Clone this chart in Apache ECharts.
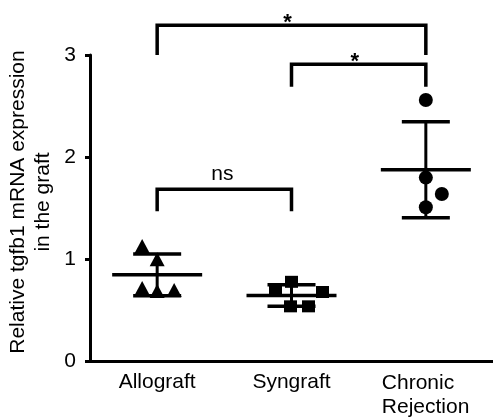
<!DOCTYPE html>
<html>
<head>
<meta charset="utf-8">
<script src="https://cdn.jsdelivr.net/npm/echarts@6/dist/echarts.min.js"></script>
<style>
  html, body { margin: 0; padding: 0; background: #fff; }
  #chart { width: 493px; height: 418px; }
</style>
</head>
<body>
<div id="chart"></div>
<script>
// Group names on the x axis
const categories = ['Allograft', 'Syngraft', 'Chronic\nRejection'];

// Relative tgfb1 mRNA expression, one value per animal
const allograft = [1.13, 1.00, 0.72, 0.69, 0.70];
const syngraft = [0.78, 0.69, 0.68, 0.54, 0.54];
const chronicRejection = [2.56, 1.80, 1.64, 1.51];

// Sideways spread of the dots inside each column (pixels)
const allograftSpread = [-15, 0, -15, 0, 17];
const syngraftSpread = [0, -16, 31, -1, 17];
const chronicSpread = [0, 0, 16, 0];

// Y axis ticks
const yTicks = [0, 1, 2, 3];

// Significance brackets: groups joined, bar height, leg foot, text
const bracketFrom = [0, 1, 0];
const bracketTo = [2, 2, 1];
const bracketTop = [3.29, 2.91, 1.685];
const bracketFoot = [3.0, 2.69, 1.47];
const bracketText = ['*', '*', 'ns'];

const FONT = '"Liberation Sans", Arial, Helvetica, sans-serif';

function mean(a) { return a.reduce((s, v) => s + v, 0) / a.length; }
function sd(a) {
  const m = mean(a);
  return Math.sqrt(a.reduce((s, v) => s + (v - m) * (v - m), 0) / (a.length - 1));
}

const groups = [
  { values: allograft, spread: allograftSpread, symbol: 'triangle', size: [15, 14] },
  { values: syngraft, spread: syngraftSpread, symbol: 'rect', size: [13, 12] },
  { values: chronicRejection, spread: chronicSpread, symbol: 'circle', size: 14 }
];

const pointSeries = groups.map((g, gi) => ({
  type: 'scatter',
  symbol: g.symbol,
  symbolSize: g.size,
  itemStyle: { color: '#000', opacity: 1 },
  silent: true,
  z: 2,
  data: g.values.map((v, i) => ({ value: [gi, v], symbolOffset: [g.spread[i], 0] }))
}));

const summary = groups.map((g, gi) => [gi, mean(g.values), sd(g.values)]);

const errorSeries = {
  type: 'custom',
  z: 3,
  silent: true,
  clip: false,
  data: summary,
  renderItem: function (params, api) {
    const x = api.value(0), m = api.value(1), s = api.value(2);
    const c = api.coord([x, m]);
    const hi = api.coord([x, m + s]);
    const lo = api.coord([x, m - s]);
    const st = { stroke: '#000', lineWidth: 3.5 };
    return {
      type: 'group',
      children: [
        { type: 'line', shape: { x1: c[0] - 45, y1: c[1], x2: c[0] + 45, y2: c[1] }, style: st },
        { type: 'line', shape: { x1: c[0], y1: hi[1], x2: c[0], y2: lo[1] }, style: { stroke: '#000', lineWidth: 3 } },
        { type: 'line', shape: { x1: c[0] - 24, y1: hi[1], x2: c[0] + 24, y2: hi[1] }, style: st },
        { type: 'line', shape: { x1: c[0] - 24, y1: lo[1], x2: c[0] + 24, y2: lo[1] }, style: st }
      ]
    };
  }
};

const bracketSeries = {
  type: 'custom',
  z: 4,
  silent: true,
  clip: false,
  data: bracketFrom.map((f, i) => [f, bracketTo[i], bracketTop[i], bracketFoot[i], i]),
  renderItem: function (params, api) {
    const a = api.value(0), b = api.value(1), top = api.value(2), foot = api.value(3);
    const label = bracketText[api.value(4)];
    const p1 = api.coord([a, foot]);
    const p2 = api.coord([a, top]);
    const p3 = api.coord([b, top]);
    const p4 = api.coord([b, foot]);
    const isStar = label === '*';
    return {
      type: 'group',
      children: [
        {
          type: 'polyline',
          shape: { points: [p1, p2, p3, p4] },
          style: { stroke: '#000', lineWidth: 3.5, fill: null, lineJoin: 'miter' }
        },
        {
          type: 'text',
          x: (p2[0] + p3[0]) / 2 - (isStar ? 4 : 2),
          y: p2[1] - (isStar ? 2 : 15),
          style: {
            text: label,
            fill: '#000',
            font: (isStar ? 'bold 22px ' : '21px ') + FONT,
            align: 'center',
            verticalAlign: 'middle'
          }
        }
      ]
    };
  }
};

const chart = echarts.init(document.getElementById('chart'), null, { renderer: 'canvas' });
chart.setOption({
  animation: false,
  backgroundColor: '#fff',
  grid: { left: 90, right: -6, top: 55, bottom: 55, containLabel: false },
  xAxis: {
    type: 'category',
    data: categories,
    boundaryGap: true,
    axisLine: { lineStyle: { color: '#000', width: 3 } },
    axisTick: { alignWithLabel: true, length: 8, lineStyle: { color: '#000', width: 3 } },
    axisLabel: {
      color: '#000', fontSize: 21, fontFamily: FONT, margin: 10, interval: 0,
      // stacked names are left-aligned inside a block centred on the tick
      formatter: function (v) {
        const parts = v.split('\n');
        return parts.length > 1 ? parts.map(p => '{l|' + p + '}').join('\n') : v;
      },
      rich: { l: { width: 88, align: 'left', fontSize: 21, fontFamily: FONT, color: '#000', lineHeight: 24 } }
    },
    splitLine: { show: false }
  },
  yAxis: {
    type: 'value',
    min: yTicks[0],
    max: yTicks[yTicks.length - 1],
    interval: 1,
    axisLine: { show: true, lineStyle: { color: '#000', width: 3 } },
    axisTick: { show: true, length: 5, lineStyle: { color: '#000', width: 3 } },
    axisLabel: { color: '#000', fontSize: 21, fontFamily: FONT, margin: 14 },
    splitLine: { show: false }
  },
  graphic: [
    {
      type: 'text',
      x: 18, y: 202,
      rotation: Math.PI / 2,
      style: { text: 'Relative tgfb1 mRNA expression', fill: '#000', font: '21px ' + FONT, align: 'center', verticalAlign: 'middle' }
    },
    {
      type: 'text',
      x: 43, y: 202,
      rotation: Math.PI / 2,
      style: { text: 'in the graft', fill: '#000', font: '21px ' + FONT, align: 'center', verticalAlign: 'middle' }
    }
  ],
  series: pointSeries.concat([errorSeries, bracketSeries])
});
</script>
</body>
</html>
